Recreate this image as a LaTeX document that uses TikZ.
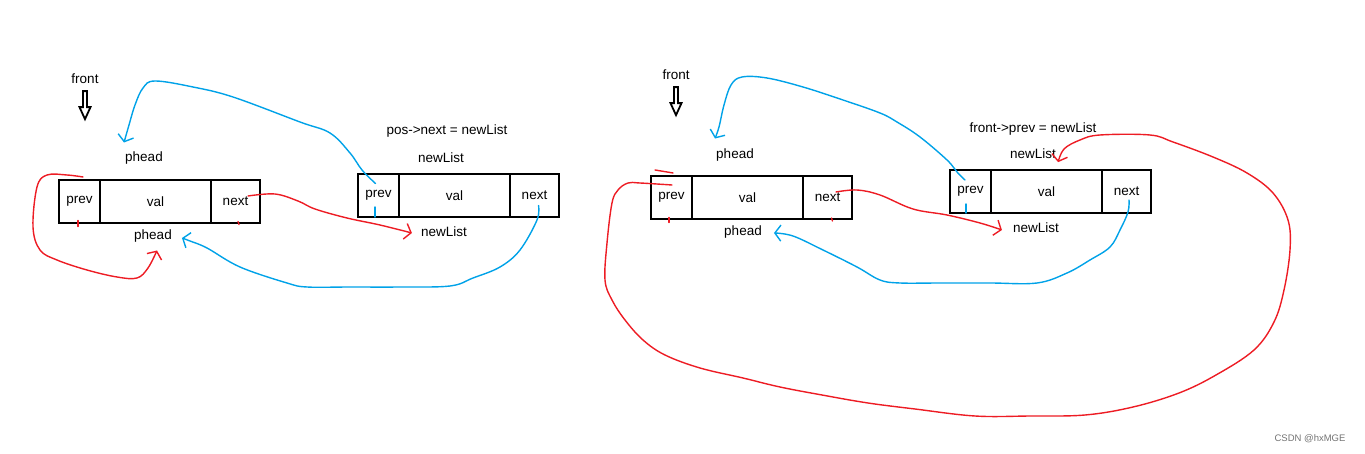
\documentclass[tikz,border=0pt]{standalone}
\usepackage{fontspec}
\setmainfont{Liberation Sans}
\usetikzlibrary{positioning,arrows.meta,calc}
\definecolor{paintblue}{RGB}{0,162,232}
\definecolor{paintred}{RGB}{237,28,36}

\begin{document}
\begin{tikzpicture}[x=1pt,y=-1pt,
      >={Straight Barb[length=6pt,width=16pt]},
      every node/.style={font=\fontsize{13.5}{16}\selectfont},
      cell/.style={draw,line width=2pt,minimum height=43pt,inner sep=0pt,outer sep=0pt},
      lbl/.style={inner sep=1pt},
      bluepen/.style={draw=paintblue,line width=1.4pt,line cap=round,line join=round},
      redpen/.style={draw=paintred,line width=1.4pt,line cap=round,line join=round},
      hollow/.style={draw,line width=1.8pt,fill=white}
    ]
    \useasboundingbox (0,0) rectangle (1365,454);
    % ---- left: pos->next = newList ----
    \node[lbl] (front1) at (85,79) {front};
    \draw[hollow] ($(front1.south)+(-2,6)$) -- ++(0,16) -- ++(-3.5,0) -- ++(5.5,12)
      -- ++(5.5,-12) -- ++(-3.5,0) -- ++(0,-16) -- cycle;
    \node[lbl] (ph1) at (144,158) {phead};
    % node phead
    \node[cell,minimum width=41pt] (p1) at (79.5,201.5) {prev};
    \node[cell,minimum width=111pt,right=0pt of p1] (v1) {val};
    \node[cell,minimum width=49pt,right=0pt of v1] (n1) {next};
    \node[lbl] (ph2) at (153,236) {phead};
    % node newList
    \node[lbl] (cap1) at (447,131) {pos->next = newList};
    \node[lbl] (nl1) at (441,158) {newList};
    \node[cell,minimum width=41pt] (p2) at (378.5,195.5) {prev};
    \node[cell,minimum width=111pt,right=0pt of p2] (v2) {val};
    \node[cell,minimum width=49pt,right=0pt of v2] (n2) {next};
    \node[lbl] (nl2) at (444,232) {newList};
    % newList->prev = phead
    \draw[bluepen,->] plot[smooth,tension=0.6] coordinates {($(p2.center)+(-3,-12)$)
      (362,170) (350,153) (330,133) (300,122) (233,97) (193,87) (155,81) (143,88) (135,105)
      (129,125) ($(ph1.north)+(-20,-8)$)};
    \draw[bluepen] ($(p2.south)+(-3.5,-10)$) -- ($(p2.south)+(-3.5,0)$);
    % newList->next = phead
    \draw[bluepen,->] plot[smooth,tension=0.6] coordinates {($(n2.center)+(4,10)$)
      (537,220) (520,250) (500,267) (473,278) (450,286) (400,287) (350,287) (307,287)
      (287,283) (240,267) (207,248) (190,241) ($(ph2.east)+(9,2)$)};
    % phead->prev = phead
    \draw[redpen,->] plot[smooth,tension=0.6] coordinates {($(p1.north)+(3.5,-3)$)
      (67,175) (47,175) (37,187) (33,227) (40,250) (57,260) (87,270) (117,277) (137,278)
      (148,268) ($(ph2.south)+(4,7)$)};
    \draw[redpen] ($(p1.south)+(-1.5,-2.5)$) -- ($(p1.south)+(-1.5,3.5)$);
    \draw[redpen] ($(n1.south)+(2.5,-1.5)$) -- ($(n1.south)+(3.5,1.5)$);
    % phead->next = newList
    \draw[redpen,->] plot[smooth,tension=0.6] coordinates {($(n1.center)+(12.5,-5.5)$)
      (275,194) (298,201) (315,209) (347,218) (380,225) ($(nl2.west)+(-8,1)$)};
    % ---- right: front->prev = newList ----
    \node[lbl] (front2) at (676,75) {front};
    \draw[hollow] ($(front2.south)+(-2,6)$) -- ++(0,16) -- ++(-3.5,0) -- ++(5.5,12)
      -- ++(5.5,-12) -- ++(-3.5,0) -- ++(0,-16) -- cycle;
    \node[lbl] (ph3) at (735,155) {phead};
    \node[cell,minimum width=41pt] (p3) at (671.5,197.5) {prev};
    \node[cell,minimum width=111pt,right=0pt of p3] (v3) {val};
    \node[cell,minimum width=49pt,right=0pt of v3] (n3) {next};
    \node[lbl] (ph4) at (743,232) {phead};
    \node[lbl] (cap2) at (1033,129) {front->prev = newList};
    \node[lbl] (nl3) at (1033,154) {newList};
    \node[cell,minimum width=41pt] (p4) at (970.5,191.5) {prev};
    \node[cell,minimum width=111pt,right=0pt of p4] (v4) {val};
    \node[cell,minimum width=49pt,right=0pt of v4] (n4) {next};
    \node[lbl] (nl4) at (1036,228) {newList};
    % newList->prev = phead
    \draw[bluepen,->] plot[smooth,tension=0.6] coordinates {($(p4.center)+(-5.5,-11.5)$)
      (957,172) (947,160) (920,137) (897,122) (880,113) (843,100) (803,87) (767,78)
      (742,77) (731,85) (724,105) (719,127) ($(ph3.north)+(-20,-9)$)};
    \draw[bluepen] ($(p4.south)+(-4.5,-9)$) -- ($(p4.south)+(-4.5,0)$);
    % newList->next = phead
    \draw[bluepen,->] plot[smooth,tension=0.6] coordinates {($(n4.center)+(2.5,8.5)$)
      (1128,212) (1120,230) (1110,247) (1090,260) (1067,273) (1037,283) (990,283)
      (940,283) (900,283) (880,280) (857,267) (823,250) (793,236) ($(ph4.east)+(11,1)$)};
    % phead->next = newList
    \draw[redpen,->] plot[smooth,tension=0.6] coordinates {($(n3.center)+(8.5,-5.5)$)
      (857,190) (880,195) (913,209) (947,215) (980,223) ($(nl4.west)+(-10,2)$)};
    % front->prev = newList
    \draw[redpen,->] plot[smooth,tension=0.6] coordinates {($(p3.center)+(0.5,-12.5)$)
      (640,183) (628,183) (618,190) (612,203) (607,243) (605,280) (612,300) (625,320)
      (643,340) (665,355) (700,368) (743,378) (780,387) (822,395) (868,403) (915,409)
      (975,416) (1030,416) (1085,415) (1133,407) (1179,393) (1216,375) (1254,350) (1274,322)
      (1284,290) (1290,250) (1288,220) (1273,193) (1247,173) (1213,157) (1173,142)
      (1150,135) (1100,135) (1080,140) (1064,149) ($(nl3.south east)+(1,2)$)};
    \draw[redpen] ($(p3.north)+(-16.5,-6)$) -- ($(p3.north)+(1.5,-3)$);
    \draw[redpen] ($(p3.south)+(-2.5,-1.5)$) -- ($(p3.south)+(-2.5,3.5)$);
    \draw[redpen] ($(n3.south)+(4,-1)$) -- ($(n3.south)+(5,2)$);
    % watermark
    \node[font=\fontsize{9.5}{11}\selectfont,text=black!55] (mark) at (1310,439) {CSDN @hxMGE};
  \end{tikzpicture}
\end{document}
